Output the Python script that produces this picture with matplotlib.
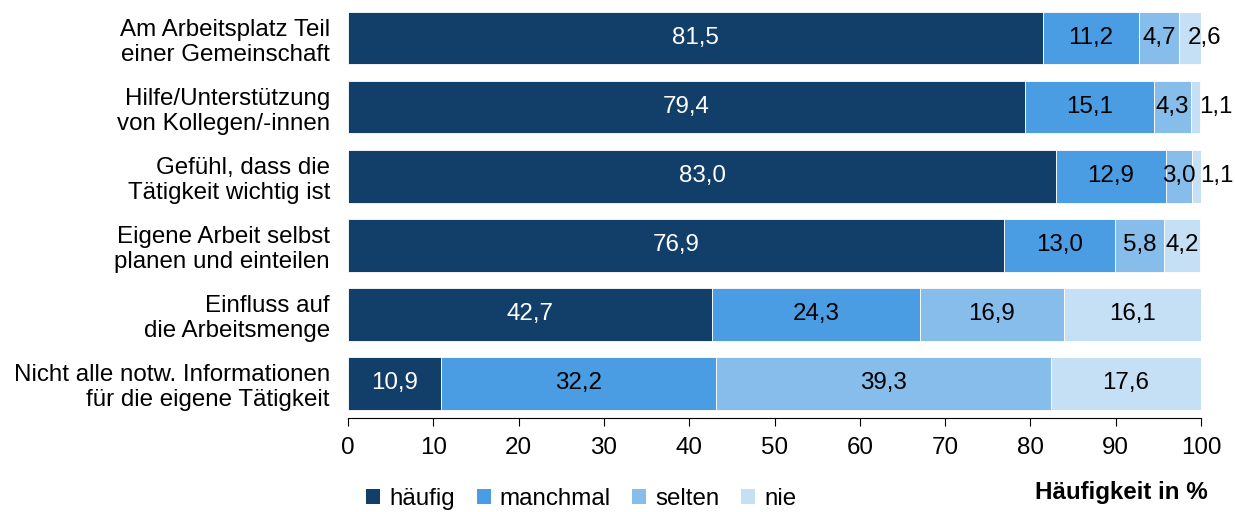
import numpy as np
import matplotlib.pyplot as plt
from matplotlib.patches import Patch

plt.rcParams['font.family'] = ['Liberation Sans', 'DejaVu Sans']

categories = [
    "Am Arbeitsplatz Teil\neiner Gemeinschaft",
    "Hilfe/Unterstützung\nvon Kollegen/-innen",
    "Gefühl, dass die\nTätigkeit wichtig ist",
    "Eigene Arbeit selbst\nplanen und einteilen",
    "Einfluss auf\ndie Arbeitsmenge",
    "Nicht alle notw. Informationen\nfür die eigene Tätigkeit",
]
series_names = ["häufig", "manchmal", "selten", "nie"]
haeufig = [81.5, 79.4, 83.0, 76.9, 42.7, 10.9]
manchmal = [11.2, 15.1, 12.9, 13.0, 24.3, 32.2]
selten = [4.7, 4.3, 3.0, 5.8, 16.9, 39.3]
nie = [2.6, 1.1, 1.1, 4.2, 16.1, 17.6]
colors = ["#123F69", "#4A9DE2", "#86BDEB", "#C5DFF4"]
text_colors = ["white", "black", "black", "black"]

fs = 17.4

fig = plt.figure(figsize=(12.35, 5.12), dpi=100)
ax = fig.add_axes([0.2818, 0.1836, 0.6907, 0.8094])

y = np.arange(len(categories))
left = np.zeros(len(categories))
for vals, name, col, tcol in zip([haeufig, manchmal, selten, nie], series_names, colors, text_colors):
    vals = np.array(vals)
    ax.barh(y, vals, left=left, height=0.76, color=col, edgecolor="white", linewidth=0.6, label=name)
    for i, v in enumerate(vals):
        label = f"{v:.1f}".replace(".", ",")
        if v < 3:
            ax.text(left[i] + 1.0, y[i], label, ha="left", va="center", color=tcol, fontsize=fs)
        else:
            ax.text(left[i] + v / 2, y[i], label, ha="center", va="center", color=tcol, fontsize=fs)
    left += vals

ax.set_xlim(0, 100)
ax.set_ylim(len(categories) - 0.5, -0.5)
ax.set_xticks(np.arange(0, 101, 10))
ax.set_yticks(y)
ax.set_yticklabels(categories, fontsize=fs, ha="right")
ax.tick_params(axis="y", length=0, pad=13)
ax.tick_params(axis="x", labelsize=fs, length=6, direction="out", pad=8)
for s in ["top", "right", "left"]:
    ax.spines[s].set_visible(False)

handles = [Patch(facecolor=c, label=n) for c, n in zip(colors, series_names)]
fig.legend(handles=handles, loc="lower left", bbox_to_anchor=(0.279, -0.039), ncol=4, frameon=False,
           fontsize=fs, handlelength=0.58, handleheight=0.58, handletextpad=0.37, columnspacing=0.9)
fig.text(0.978, 0.038, "Häufigkeit in %", ha="right", va="center", fontsize=fs, fontweight="bold")

fig.savefig("out.png", dpi=100)
